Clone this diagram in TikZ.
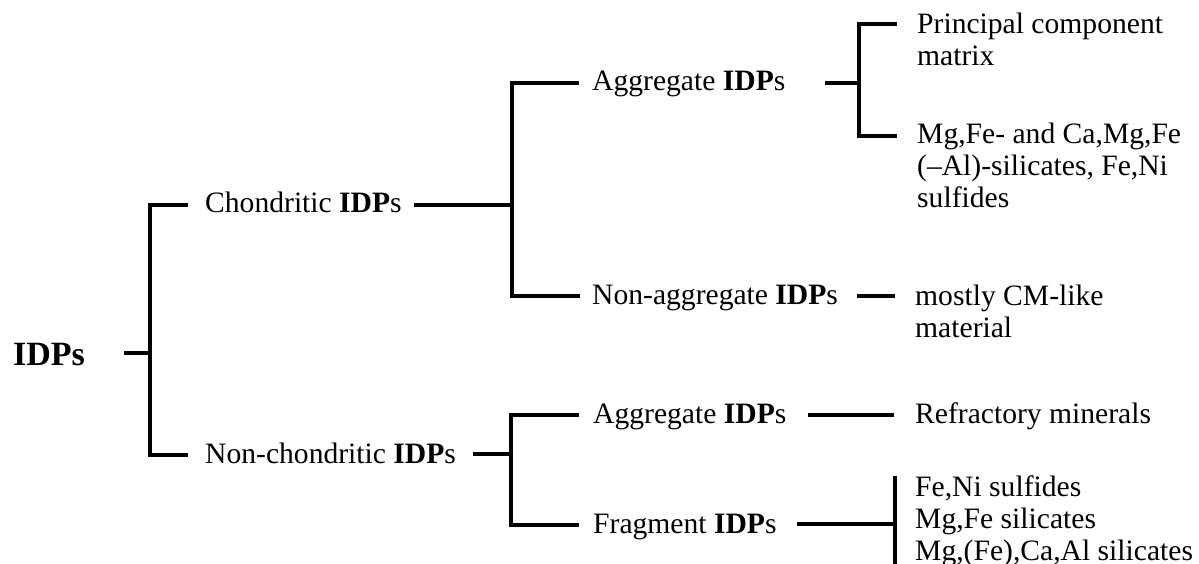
\documentclass[tikz,border=0pt]{standalone}
\usepackage{fontspec}
\setmainfont{Liberation Serif}
\begin{document}
\begin{tikzpicture}[x=1pt,y=-1pt,
  lbl/.style={anchor=base west,inner sep=0pt,font=\fontsize{29.6}{32}\selectfont},
  rootlbl/.style={anchor=base west,inner sep=0pt,font=\fontsize{34}{38}\selectfont\bfseries},
  branch/.style={line width=3.5pt,line join=miter,line cap=butt}]
\useasboundingbox (0,0) rectangle (1199,564);
% text nodes
\node[rootlbl] (root) at (13,365) {IDPs};
\node[lbl] (chond) at (205,213) {Chondritic \textbf{IDP}s};
\node[lbl] (nonchond) at (205,463) {Non-chondritic \textbf{IDP}s};
\node[lbl] (agg1) at (592,91) {Aggregate \textbf{IDP}s};
\node[lbl] (nonagg) at (592,304) {Non-aggregate \textbf{IDP}s};
\node[lbl] (agg2) at (593,423) {Aggregate \textbf{IDP}s};
\node[lbl] (frag) at (593,533) {Fragment \textbf{IDP}s};
\node[lbl] (pcm) at (917,34) {\begin{tabular}[t]{@{}l@{}}Principal component\\matrix\end{tabular}};
\node[lbl] (sil) at (917,144) {\begin{tabular}[t]{@{}l@{}}Mg,Fe- and Ca,Mg,Fe\\(–Al)-silicates, Fe,Ni\\sulfides\end{tabular}};
\node[lbl] (cm) at (915,305) {\begin{tabular}[t]{@{}l@{}}mostly CM-like\\material\end{tabular}};
\node[lbl] (refr) at (915,423) {Refractory minerals};
\node[lbl] (fragmin) at (915,496) {\begin{tabular}[t]{@{}l@{}}Fe,Ni sulfides\\Mg,Fe silicates\\Mg,(Fe),Ca,Al silicates\end{tabular}};
% connector points
\coordinate (r0) at (124,353); \coordinate (r1) at (150,353);
\coordinate (rt) at (188,205); \coordinate (rb) at (188,455);
\coordinate (c0) at (414,205); \coordinate (c1) at (512,205);
\coordinate (ct) at (579,83); \coordinate (cb) at (580,296);
\coordinate (a0) at (825,83); \coordinate (a1) at (859,83);
\coordinate (at) at (897,24); \coordinate (ab) at (897,136);
\coordinate (n0) at (857,296); \coordinate (n1) at (895,296);
\coordinate (nc0) at (473,454); \coordinate (nc1) at (511,454);
\coordinate (nct) at (579,415); \coordinate (ncb) at (579,525);
\coordinate (g0) at (808,415); \coordinate (g1) at (894,415);
\coordinate (f0) at (797,524); \coordinate (f1) at (895,524);
\coordinate (ft) at (895,476); \coordinate (fb) at (895,590);
% connectors
\draw[branch] (r0) -- (r1);
\draw[branch] (rt) -- (rt -| r1) -- (rb -| r1) -- (rb);
\draw[branch] (c0) -- (c1);
\draw[branch] (ct) -- (ct -| c1) -- (cb -| c1) -- (cb);
\draw[branch] (a0) -- (a1);
\draw[branch] (at) -- (at -| a1) -- (ab -| a1) -- (ab);
\draw[branch] (n0) -- (n1);
\draw[branch] (nc0) -- (nc1);
\draw[branch] (nct) -- (nct -| nc1) -- (ncb -| nc1) -- (ncb);
\draw[branch] (g0) -- (g1);
\draw[branch] (f0) -- (f1);
\draw[branch] (ft) -- (fb);
\end{tikzpicture}
\end{document}
